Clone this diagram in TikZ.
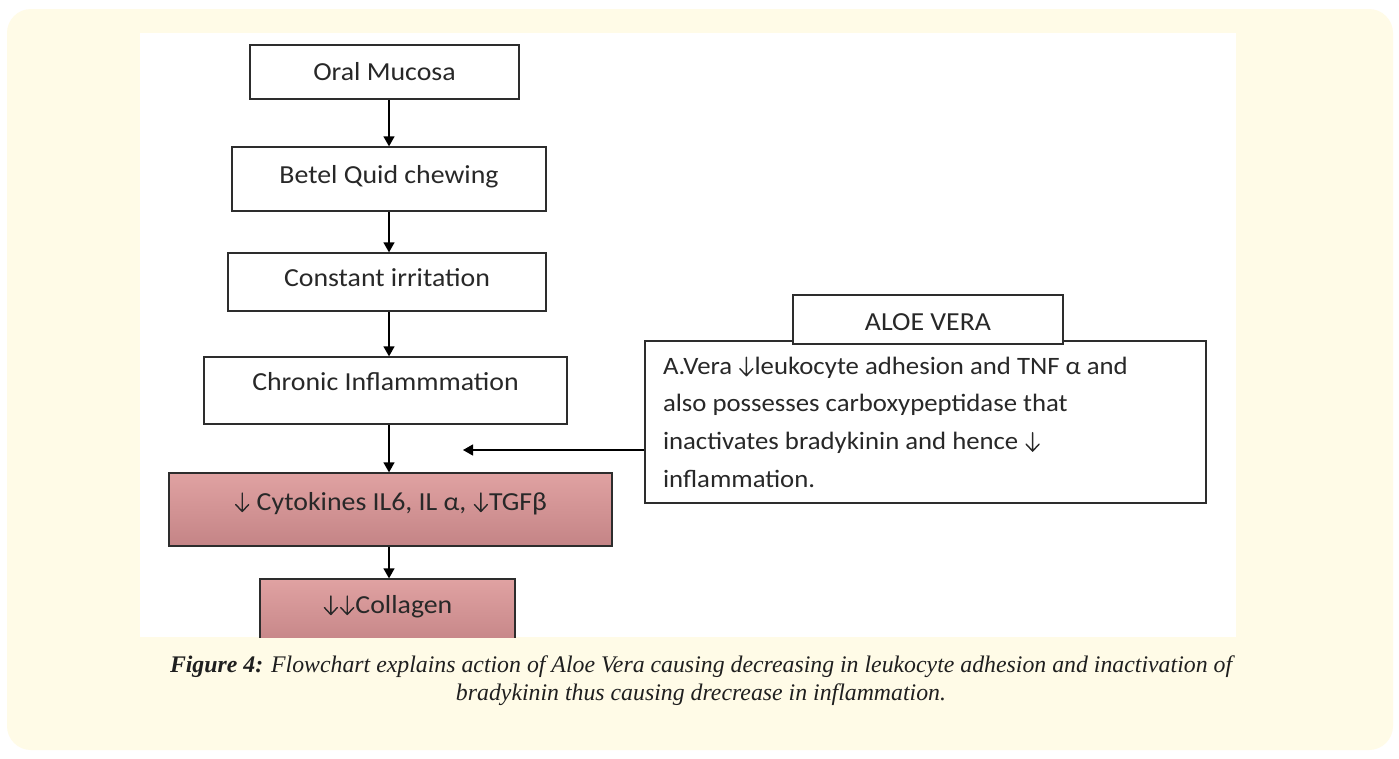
\documentclass[tikz,border=0pt]{standalone}
\usepackage{fontspec}
\setmainfont{Carlito}[FakeStretch=1.07]
\newfontfamily\capfont{Liberation Serif}
\usetikzlibrary{arrows.meta}
\definecolor{cream}{RGB}{255,251,231}
\definecolor{edge}{RGB}{45,45,45}
\definecolor{inktext}{RGB}{40,40,40}
\definecolor{rosetop}{RGB}{224,162,162}
\definecolor{rosebot}{RGB}{196,132,134}
% thin "decrease" arrow set inline with the text
\newcommand{\dn}{\hspace{1pt}\tikz[baseline=0pt, x=1pt, y=1pt]{\draw[draw=inktext, line width=1.4pt, line cap=round, line join=round]
  (6.5,17) -- (6.5,-1.5) (0,5.5) -- (6.5,-1.5) -- (13,5.5);}\hspace{1pt}}
\tikzset{
  flow/.style={draw=edge, line width=1.3pt, fill=white, inner sep=0pt,
    text=inktext, font=\fontsize{26}{30}\selectfont},
  rose/.style={flow, top color=rosetop, bottom color=rosebot},
  arr/.style={draw=black, line width=1.3pt, -{Triangle[width=11pt,length=10pt]}}
}
\begin{document}
\begin{tikzpicture}[x=1pt, y=-1pt]
  % page, cream panel and white figure area
  \fill[white] (0,0) rectangle (1399,758);
  \fill[cream, rounded corners=24pt] (7,9) rectangle (1393,750);
  \fill[white] (140,33) rectangle (1236,637);
  \useasboundingbox (0,0) rectangle (1399,758);

  \begin{scope}
    \clip (140,33) rectangle (1236,637);
    \coordinate (spine) at (389,0);
    % main chain
    \node[flow, minimum width=269pt, text height=35pt, text depth=19pt] (oral) at (384.5,72) {Oral Mucosa};
    \node[flow, minimum width=314pt, text height=36pt, text depth=28pt] (betel) at (389,179) {Betel Quid chewing};
    \node[flow, minimum width=318pt, text height=33pt, text depth=25pt] (irrit) at (387,282) {Constant irritation};
    \node[flow, minimum width=363pt, text height=33pt, text depth=34pt] (chronic) at (385.5,390.5) {Chronic Inflammmation};
    \node[rose, minimum width=443pt, text height=37pt, text depth=36pt] (cyto) at (390.5,509.5) {\dn\ Cytokines IL6, IL α, \dn TGFβ};
    \node[rose, minimum width=255pt, text height=34pt, text depth=34pt] (coll) at (387.5,613) {\dn\dn Collagen};

    % aloe vera side panel
    \node[flow, minimum width=561pt, minimum height=162pt, inner xsep=18pt,
      text width=525pt, align=flush left, font=\fontsize{25}{37.7}\selectfont] (txt) at (925.5,422)
      {A.Vera \dn leukocyte adhesion and TNF α and\\
       also possesses carboxypeptidase that\\
       inactivates bradykinin and hence \dn\\
       inflammation.};
    \node[flow, minimum width=270pt, text height=35pt, text depth=14pt] (aloe) at (928,319.5) {ALOE VERA};

    % connectors
    \draw[arr] (oral.south -| spine) -- (betel.north -| spine);
    \draw[arr] (betel.south -| spine) -- (irrit.north -| spine);
    \draw[arr] (irrit.south -| spine) -- (chronic.north -| spine);
    \draw[arr] (chronic.south -| spine) -- (cyto.north -| spine);
    \draw[arr] (cyto.south -| spine) -- (coll.north -| spine);
    \coordinate (aim) at (463,450);
    \draw[arr] (txt.west |- aim) -- (aim);
  \end{scope}

  % caption
  \node[font=\capfont\itshape\fontsize{23.8}{28}\selectfont, text=black!88, align=center] (cap) at (701,681)
    {\textbf{Figure 4:} Flowchart explains action of Aloe Vera causing decreasing in leukocyte adhesion and inactivation of\\
     bradykinin thus causing drecrease in inflammation.};
\end{tikzpicture}
\end{document}
